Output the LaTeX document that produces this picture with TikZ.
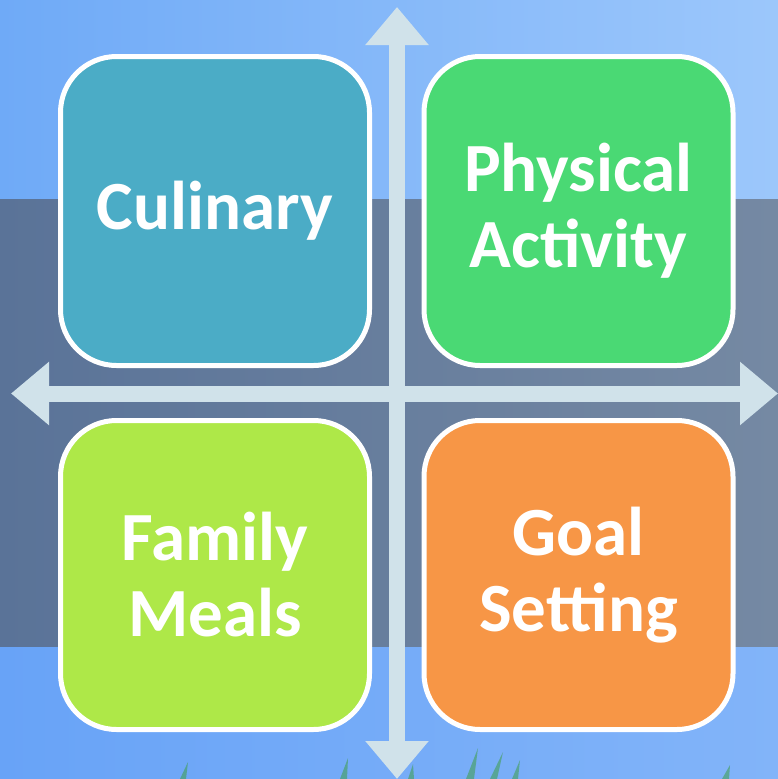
\documentclass[tikz,border=0pt]{standalone}
\usepackage{fontspec}
\setmainfont{Carlito}
\usetikzlibrary{arrows.meta}

\definecolor{skyTopL}{HTML}{6FAAF7}
\definecolor{skyTopR}{HTML}{9CC7FB}
\definecolor{bandL}{HTML}{5A7398}
\definecolor{bandR}{HTML}{7589A3}
\definecolor{skyBotL}{HTML}{68A3F7}
\definecolor{skyBotR}{HTML}{82B4F9}
\definecolor{axisCol}{HTML}{D0E2EA}
\definecolor{culinaryCol}{HTML}{4BACC6}
\definecolor{physicalCol}{HTML}{4AD974}
\definecolor{familyCol}{HTML}{AEE848}
\definecolor{goalCol}{HTML}{F79646}
\definecolor{grassCol}{HTML}{3E9E48}

\tikzset{
  quadbox/.style={draw=white, line width=5pt, rounded corners=56pt,
    minimum width=309pt, minimum height=309pt, inner sep=0pt,
    text=white, align=center,
    font=\bfseries\fontsize{69}{76}\selectfont},
  axis/.style={draw=axisCol, line width=16pt,
    {Triangle[width=61pt,length=38pt]}-{Triangle[width=61pt,length=38pt]}},
  blade/.style={fill=grassCol, opacity=0.55, draw=none}
}

\begin{document}
\begin{tikzpicture}[x=1pt,y=-1pt]
  \useasboundingbox (0,0) rectangle (778,779);

  % sky above, dark horizon band, lighter sky below
  \shade[left color=skyTopL, right color=skyTopR] (0,0) rectangle (778,199);
  \shade[left color=bandL, right color=bandR] (0,199) rectangle (778,647);
  \shade[left color=skyBotL, right color=skyBotR] (0,647) rectangle (778,779);

  % a few grass blades along the bottom edge
  \fill[blade] (180,779) -- (188,762) -- (186,779) -- cycle;
  \fill[blade] (340,779) -- (348,758) -- (347,779) -- cycle;
  \fill[blade] (466,779) -- (478,748) -- (474,779) -- cycle;
  \fill[blade] (490,779) -- (503,752) -- (497,779) -- cycle;
  \fill[blade] (512,779) -- (520,760) -- (518,779) -- cycle;
  \fill[blade] (722,779) -- (730,765) -- (729,779) -- cycle;
  \fill[blade] (408,779) -- (413,764) -- (414,779) -- cycle;

  % the four quadrants
  \node[quadbox, fill=culinaryCol] (culinary) at (215,211) {Culinary};
  \node[quadbox, fill=physicalCol] (physical) at (578.5,211) {Physical\\Activity};
  \node[quadbox, fill=familyCol] (family) at (215,575) {Family\\Meals};
  \node[quadbox, fill=goalCol] (goal) at (578.5,575) {Goal\\Setting};

  % crossing axes
  \coordinate (top) at (397,7);
  \coordinate (bottom) at (397,779);
  \coordinate (left) at (11,393.5);
  \coordinate (right) at (778,393.5);
  \draw[axis] (bottom) -- (top);
  \draw[axis] (left) -- (right);
\end{tikzpicture}
\end{document}
